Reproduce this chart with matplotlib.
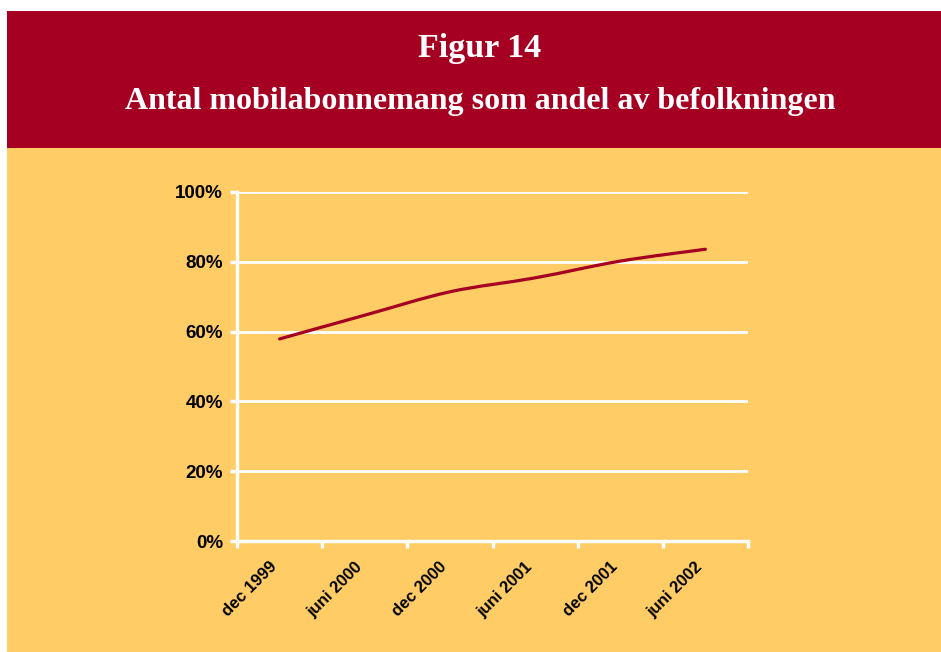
import matplotlib
matplotlib.use("Agg")
import matplotlib.pyplot as plt
import numpy as np
from matplotlib.path import Path
from matplotlib.patches import PathPatch, Rectangle
from matplotlib.ticker import FixedLocator, FuncFormatter

# data (andel av befolkningen, %)
periods = ["dec 1999", "juni 2000", "dec 2000", "juni 2001", "dec 2001", "juni 2002"]
share = [57.9, 64.7, 71.4, 75.4, 80.2, 83.6]
y_ticks = [0, 20, 40, 60, 80, 100]

RED = "#A50021"
ORANGE = "#FFCC66"

fig = plt.figure(figsize=(9.41, 6.52), dpi=100)
fig.patch.set_facecolor("white")

W, H = 941, 652
# header banner and background panel
fig.patches.append(Rectangle((7 / W, 1 - 148 / H), 1 - 7 / W, (148 - 11) / H,
                             transform=fig.transFigure, facecolor=RED, edgecolor="none", zorder=-2))
fig.patches.append(Rectangle((7 / W, 0), 1 - 7 / W, 1 - 148 / H,
                             transform=fig.transFigure, facecolor=ORANGE, edgecolor="none", zorder=-2))

fig.text(480 / W, 1 - 48 / H, "Figur 14", ha="center", va="center", color="white",
         fontsize=24.5, fontweight="bold", family="Liberation Serif")
fig.text(480 / W, 1 - 102 / H, "Antal mobilabonnemang som andel av befolkningen", ha="center",
         va="center", color="white", fontsize=23, fontweight="bold", family="Liberation Serif")

ax = fig.add_axes([237 / W, 1 - 541 / H, (748 - 237) / W, (541 - 192) / H])
ax.set_facecolor("none")

x = np.arange(len(periods))
y = np.array(share, dtype=float)

# smoothed line (Catmull-Rom as cubic Bezier segments)
verts = [(x[0], y[0])]
codes = [Path.MOVETO]
n = len(x)
for i in range(n - 1):
    p0 = np.array([x[max(i - 1, 0)], y[max(i - 1, 0)]])
    p1 = np.array([x[i], y[i]])
    p2 = np.array([x[i + 1], y[i + 1]])
    p3 = np.array([x[min(i + 2, n - 1)], y[min(i + 2, n - 1)]])
    c1 = p1 + (p2 - p0) / 6
    c2 = p2 - (p3 - p1) / 6
    verts += [tuple(c1), tuple(c2), tuple(p2)]
    codes += [Path.CURVE4] * 3
ax.add_patch(PathPatch(Path(verts, codes), facecolor="none", edgecolor=RED,
                       linewidth=2.3, capstyle="round", zorder=3))

ax.set_xlim(-0.5, len(periods) - 0.5)
ax.set_ylim(0, 100)

ax.set_yticks(y_ticks)
ax.yaxis.set_major_formatter(FuncFormatter(lambda v, p: f"{int(v)}%"))
ax.grid(axis="y", color="white", linewidth=2)
ax.set_axisbelow(True)

ax.xaxis.set_major_locator(FixedLocator(np.arange(len(periods) + 1) - 0.5))
ax.xaxis.set_major_formatter(FuncFormatter(lambda v, p: ""))
ax.set_xticks(x, minor=True)
ax.set_xticklabels(periods, minor=True, rotation=45, ha="right", va="top",
                   fontsize=12, fontweight="bold", family="Liberation Sans")
ax.tick_params(axis="x", which="minor", length=0, pad=13)
ax.tick_params(axis="x", which="major", length=5, width=2.5, color="white")
ax.tick_params(axis="y", length=5, width=2.5, color="white", pad=5,
               labelsize=13.5)
for lab in ax.get_yticklabels():
    lab.set_fontweight("bold")
    lab.set_family("Liberation Sans")

for side in ["top", "right"]:
    ax.spines[side].set_visible(False)
for side in ["left", "bottom"]:
    ax.spines[side].set_color("white")
    ax.spines[side].set_linewidth(2.5)

fig.savefig("out.png", dpi=100, facecolor=fig.get_facecolor())
